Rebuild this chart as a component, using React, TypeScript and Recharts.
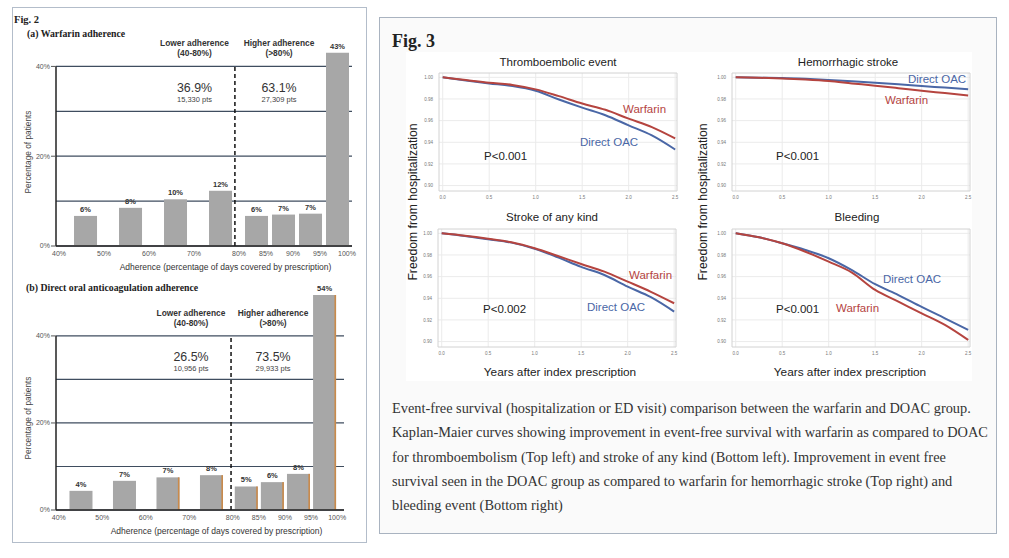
import React from "react";
import {
  BarChart,
  Bar,
  XAxis,
  YAxis,
  CartesianGrid,
  ReferenceLine,
  ReferenceArea,
  LabelList,
  LineChart,
  Line,
} from "recharts";

// ---- Fig. 2 data ----
const BIN_LO = [40, 50, 60, 70, 80, 85, 90, 95];
const BIN_HI = [50, 60, 70, 80, 85, 90, 95, 100];
const AXIS_TICKS = [40, 50, 60, 70, 80, 85, 90, 95, 100];
const Y_TICKS = [0, 10, 20, 30, 40];

const WARFARIN_PCT = [6.7, 8.5, 10.4, 12.3, 6.7, 7.0, 7.2, 43.1];
const WARFARIN_LABELS = ["6%", "8%", "10%", "12%", "6%", "7%", "7%", "43%"];
const WARFARIN_SHARE = ["36.9%", "63.1%"];
const WARFARIN_PTS = ["15,330 pts", "27,309 pts"];

const DOAC_PCT = [4.4, 6.7, 7.5, 8.0, 5.4, 6.4, 8.3, 54];
const DOAC_LABELS = ["4%", "7%", "7%", "8%", "5%", "6%", "8%", "54%"];
const DOAC_SHARE = ["26.5%", "73.5%"];
const DOAC_PTS = ["10,956 pts", "29,933 pts"];

const GROUP_NAMES = ["Lower adherence", "Higher adherence"];
const GROUP_RANGES = ["(40-80%)", "(>80%)"];

// ---- Fig. 3 data ----
const YEARS = [0, 0.25, 0.5, 0.75, 1, 1.25, 1.5, 1.75, 2, 2.25, 2.5];
const TE_WARFARIN = [1, 0.9975, 0.995, 0.993, 0.9889, 0.9826, 0.9758, 0.97, 0.9618, 0.954, 0.9435];
const TE_DOAC = [1, 0.997, 0.9944, 0.992, 0.9876, 0.9795, 0.972, 0.965, 0.9556, 0.9463, 0.9333];
const HS_WARFARIN = [1, 0.9996, 0.999, 0.998, 0.9966, 0.9944, 0.9923, 0.99, 0.9876, 0.9855, 0.9833];
const HS_DOAC = [1, 0.9997, 0.9994, 0.9986, 0.9975, 0.9963, 0.995, 0.9936, 0.992, 0.9905, 0.9889];
const SA_WARFARIN = [1, 0.9978, 0.995, 0.9917, 0.9862, 0.979, 0.9717, 0.9646, 0.9554, 0.946, 0.9354];
const SA_DOAC = [1, 0.9975, 0.9945, 0.9914, 0.9858, 0.9778, 0.969, 0.9615, 0.9508, 0.941, 0.9277];
const BL_WARFARIN = [1, 0.9963, 0.9908, 0.983, 0.9738, 0.9637, 0.9477, 0.9369, 0.926, 0.9154, 0.9015];
const BL_DOAC = [1, 0.9963, 0.9908, 0.9846, 0.977, 0.966, 0.953, 0.943, 0.932, 0.9215, 0.9108];
const KM_X_TICKS = [0, 0.5, 1, 1.5, 2, 2.5];
const KM_Y_TICKS = [0.9, 0.92, 0.94, 0.96, 0.98, 1];

const CAPTION_LINES = [
  "Event-free survival (hospitalization or ED visit) comparison between the warfarin and DOAC group.",
  "Kaplan-Maier curves showing improvement in event-free survival with warfarin as compared to DOAC",
  "for thromboembolism (Top left) and stroke of any kind (Bottom left). Improvement in event free",
  "survival seen in the DOAC group as compared to warfarin for hemorrhagic stroke (Top right) and",
  "bleeding event (Bottom right)",
];

const SANS = "'Liberation Sans', Arial, sans-serif";
const SERIF = "'Liberation Serif', Georgia, serif";
const BAR_FILL = "#a7a7a7";
const EDGE = "#c98a4b";
const GRID = "#3f4d5f";
const RED = "#b5443f";
const BLUE = "#4a67a6";

// upper bins (80-100%) are drawn wider than their share of the range
const UPPER_STRETCH = 1.2;
const toPos = (a: number) => (a <= 80 ? a : 80 + (a - 80) * UPPER_STRETCH);
const TICK_POS = AXIS_TICKS.map(toPos);

type TxtProps = {
  x: number;
  y: number;
  size: number;
  children: React.ReactNode;
  color?: string;
  bold?: boolean;
  family?: string;
  align?: "left" | "center";
  rotate?: boolean;
};

function Txt({ x, y, size, children, color = "#222", bold, family = SANS, align = "center", rotate }: TxtProps) {
  let transform = align === "center" ? "translate(-50%, -50%)" : "translate(0, -50%)";
  if (rotate) transform += " rotate(-90deg)";
  return (
    <div
      style={{
        position: "absolute",
        left: x,
        top: y,
        fontSize: size,
        lineHeight: 1,
        color,
        fontWeight: bold ? 700 : 400,
        fontFamily: family,
        whiteSpace: "nowrap",
        transform,
      }}
    >
      {children}
    </div>
  );
}

const renderYTick = (props: any) => {
  const { x, y, payload } = props;
  if (payload.value % 20 !== 0) return <g />;
  return (
    <g>
      <line x1={x + 1} x2={x + 6} y1={y} y2={y} stroke="#555" strokeWidth={1} />
      <text x={x} y={y} dy={2.4} textAnchor="end" fontSize={7} fill="#555" fontFamily={SANS}>
        {payload.value}%
      </text>
    </g>
  );
};

const makeBarShape = (edged: boolean) => (props: any) => {
  const { x, y, width, height, index, background } = props;
  const top = background ? Math.max(y, background.y) : y;
  const h = y + height - top;
  return (
    <g>
      <rect x={x} y={top} width={width} height={h} fill={BAR_FILL} />
      {edged && index >= 2 && <rect x={x + width - 1.6} y={top} width={1.6} height={h} fill={EDGE} />}
    </g>
  );
};

const makeBarLabel = (plotTop: number) => (props: any) => {
  const vb = props.viewBox ?? props;
  const x = Number(vb.x) + Number(vb.width) / 2;
  const y = Math.max(Number(vb.y), plotTop) - 4;
  return (
    <text x={x} y={y} textAnchor="middle" fontSize={7.5} fontWeight="bold" fill="#333" fontFamily={SANS}>
      {props.value}
    </text>
  );
};

type AdhProps = {
  top: number;
  margin: { top: number; right: number; left: number; bottom: number };
  xDomain: [number, number];
  yMax: number;
  values: number[];
  labels: string[];
  divider: number;
  tickDx: number;
  edged: boolean;
};

function AdherenceChart(p: AdhProps) {
  const rows = BIN_LO.map((lo, i) => ({
    pos: toPos((lo + BIN_HI[i]) / 2),
    value: p.values[i],
    label: p.labels[i],
  }));
  return (
    <div style={{ position: "absolute", left: 0, top: p.top }}>
      <BarChart width={370} height={280} data={rows} margin={p.margin}>
        <CartesianGrid vertical={false} syncWithTicks stroke={GRID} strokeWidth={1.2} />
        <XAxis
          type="number"
          dataKey="pos"
          domain={p.xDomain}
          allowDataOverflow
          ticks={TICK_POS}
          interval={0}
          tickFormatter={(v: number) => {
            const i = TICK_POS.findIndex((q) => Math.abs(q - v) < 1e-6);
            return `${AXIS_TICKS[i]}%`;
          }}
          height={20}
          tickLine={false}
          tickSize={4}
          tickMargin={1}
          axisLine={{ stroke: "#222", strokeWidth: 1.5 }}
          tick={{ fontSize: 7, fill: "#555", dx: p.tickDx, fontFamily: SANS }}
        />
        <YAxis
          type="number"
          domain={[0, p.yMax]}
          allowDataOverflow
          ticks={Y_TICKS}
          interval={0}
          width={30}
          tickSize={5}
          tickMargin={1}
          axisLine={false}
          tickLine={false}
          tick={renderYTick}
        />
        <ReferenceLine
          segment={[
            { x: p.xDomain[0], y: 0 },
            { x: p.xDomain[0], y: 40 },
          ]}
          stroke="#222"
          strokeWidth={1.5}
        />
        <ReferenceLine
          segment={[
            { x: p.divider, y: 0 },
            { x: p.divider, y: 40 },
          ]}
          stroke="#111"
          strokeWidth={1.5}
          strokeDasharray="4 3"
        />
        <Bar dataKey="value" barSize={23} fill={BAR_FILL} isAnimationActive={false} shape={makeBarShape(p.edged)}>
          <LabelList dataKey="label" content={makeBarLabel(p.margin.top)} />
        </Bar>
      </BarChart>
    </div>
  );
}

function kmRows(w: number[], d: number[]) {
  return YEARS.map((t, i) => ({ t, w: w[i], d: d[i] }));
}

function KmChart({ left, top, w, d }: { left: number; top: number; w: number[]; d: number[] }) {
  return (
    <div style={{ position: "absolute", left: left - 25, top: top - 5 }}>
      <LineChart width={268} height={143} data={kmRows(w, d)} margin={{ top: 5, right: 5, left: 5, bottom: 5 }}>
        <CartesianGrid stroke="#ebebeb" syncWithTicks />
        <ReferenceArea x1={-0.04} x2={2.52} y1={0.895} y2={1.004} fill="none" stroke="#d2d2d2" ifOverflow="visible" />
        <XAxis
          type="number"
          dataKey="t"
          domain={[-0.04, 2.52]}
          allowDataOverflow
          ticks={KM_X_TICKS}
          interval={0}
          tickFormatter={(v: number) => v.toFixed(1)}
          height={15}
          tickSize={3}
          tickMargin={2}
          tickLine={false}
          axisLine={false}
          tick={{ fontSize: 4.5, fill: "#777", fontFamily: SANS }}
        />
        <YAxis
          type="number"
          domain={[0.895, 1.004]}
          allowDataOverflow
          ticks={KM_Y_TICKS}
          interval={0}
          tickFormatter={(v: number) => v.toFixed(2)}
          width={20}
          tickSize={4}
          tickMargin={2}
          tickLine={false}
          axisLine={false}
          tick={{ fontSize: 4.5, fill: "#777", fontFamily: SANS }}
        />
        <Line type="monotone" dataKey="d" stroke={BLUE} strokeWidth={2} dot={false} isAnimationActive={false} />
        <Line type="monotone" dataKey="w" stroke={RED} strokeWidth={2} dot={false} isAnimationActive={false} />
      </LineChart>
    </div>
  );
}

export default function App() {
  return (
    <div style={{ position: "absolute", left: 0, top: 0, width: 1009, height: 558, background: "#fff", overflow: "hidden" }}>
      {/* Fig. 2 panel */}
      <div
        style={{
          position: "absolute",
          left: 12,
          top: 7,
          width: 355,
          height: 536,
          boxSizing: "border-box",
          border: "1px solid #b3bdca",
          background: "#fff",
        }}
      />
      <Txt x={14} y={20} size={10.5} bold family={SERIF} align="left">Fig. 2</Txt>
      <Txt x={27} y={34} size={9.8} bold family={SERIF} align="left">(a) Warfarin adherence</Txt>

      <AdherenceChart
        top={0}
        margin={{ top: 52.5, right: 18, left: 26, bottom: 14 }}
        xDomain={[38.44, 104.22]}
        yMax={43.1}
        values={WARFARIN_PCT}
        labels={WARFARIN_LABELS}
        divider={78.2}
        tickDx={-4}
        edged={false}
      />
      <Txt x={194.5} y={43} size={8.4} bold color="#333">{GROUP_NAMES[0]}</Txt>
      <Txt x={194.5} y={53} size={8.4} bold color="#333">{GROUP_RANGES[0]}</Txt>
      <Txt x={279} y={43} size={8.4} bold color="#333">{GROUP_NAMES[1]}</Txt>
      <Txt x={279} y={53} size={8.4} bold color="#333">{GROUP_RANGES[1]}</Txt>
      <Txt x={194.5} y={88} size={12.4} color="#333">{WARFARIN_SHARE[0]}</Txt>
      <Txt x={194.5} y={100} size={7.5} color="#444">{WARFARIN_PTS[0]}</Txt>
      <Txt x={279} y={88} size={12.4} color="#333">{WARFARIN_SHARE[1]}</Txt>
      <Txt x={279} y={100} size={7.5} color="#444">{WARFARIN_PTS[1]}</Txt>
      <Txt x={28} y={152} size={8.3} color="#444" rotate>Percentage of patients</Txt>
      <Txt x={225.5} y={267} size={8.5} color="#333">Adherence (percentage of days covered by prescription)</Txt>

      <Txt x={26} y={288} size={9.8} bold family={SERIF} align="left">(b) Direct oral anticoagulation adherence</Txt>
      <AdherenceChart
        top={270}
        margin={{ top: 25, right: 26, left: 26, bottom: 20 }}
        xDomain={[39.36, 105.57]}
        yMax={49.4}
        values={DOAC_PCT}
        labels={DOAC_LABELS}
        divider={79.6}
        tickDx={0}
        edged
      />
      <Txt x={191} y={313} size={8.4} bold color="#333">{GROUP_NAMES[0]}</Txt>
      <Txt x={191} y={322.5} size={8.4} bold color="#333">{GROUP_RANGES[0]}</Txt>
      <Txt x={273} y={313} size={8.4} bold color="#333">{GROUP_NAMES[1]}</Txt>
      <Txt x={273} y={322.5} size={8.4} bold color="#333">{GROUP_RANGES[1]}</Txt>
      <Txt x={191} y={357} size={12.4} color="#333">{DOAC_SHARE[0]}</Txt>
      <Txt x={191} y={369} size={7.5} color="#444">{DOAC_PTS[0]}</Txt>
      <Txt x={273} y={357} size={12.4} color="#333">{DOAC_SHARE[1]}</Txt>
      <Txt x={273} y={369} size={7.5} color="#444">{DOAC_PTS[1]}</Txt>
      <Txt x={28} y={418} size={8.3} color="#444" rotate>Percentage of patients</Txt>
      <Txt x={216.5} y={531} size={8.5} color="#333">Adherence (percentage of days covered by prescription)</Txt>

      {/* Fig. 3 panel */}
      <div
        style={{
          position: "absolute",
          left: 379,
          top: 17,
          width: 618,
          height: 517,
          boxSizing: "border-box",
          border: "1px solid #a9b3c0",
          background: "#fafafa",
        }}
      />
      <div style={{ position: "absolute", left: 406, top: 52, width: 566, height: 329, background: "#fff" }} />
      <Txt x={392} y={41} size={18} bold family={SERIF} align="left">Fig. 3</Txt>

      <KmChart left={439} top={73} w={TE_WARFARIN} d={TE_DOAC} />
      <KmChart left={732} top={73} w={HS_WARFARIN} d={HS_DOAC} />
      <KmChart left={438} top={229} w={SA_WARFARIN} d={SA_DOAC} />
      <KmChart left={732} top={229} w={BL_WARFARIN} d={BL_DOAC} />

      <Txt x={558} y={63} size={11.5}>Thromboembolic event</Txt>
      <Txt x={848} y={63} size={11.5}>Hemorrhagic stroke</Txt>
      <Txt x={552} y={218} size={11.5}>Stroke of any kind</Txt>
      <Txt x={857} y={218} size={11.5}>Bleeding</Txt>
      <Txt x={413} y={202} size={12.2} rotate>Freedom from hospitalization</Txt>
      <Txt x={703} y={202} size={12.2} rotate>Freedom from hospitalization</Txt>
      <Txt x={560} y={373} size={11.8}>Years after index prescription</Txt>
      <Txt x={850} y={373} size={11.8}>Years after index prescription</Txt>

      <Txt x={623} y={110} size={11.5} color={RED} align="left">Warfarin</Txt>
      <Txt x={580} y={143} size={11.5} color={BLUE} align="left">Direct OAC</Txt>
      <Txt x={484} y={157} size={11.5} align="left">P&lt;0.001</Txt>
      <Txt x={908} y={80} size={11.5} color={BLUE} align="left">Direct OAC</Txt>
      <Txt x={885} y={101} size={11.5} color={RED} align="left">Warfarin</Txt>
      <Txt x={776} y={157} size={11.5} align="left">P&lt;0.001</Txt>
      <Txt x={629} y={276} size={11.5} color={RED} align="left">Warfarin</Txt>
      <Txt x={587} y={308} size={11.5} color={BLUE} align="left">Direct OAC</Txt>
      <Txt x={483} y={310} size={11.5} align="left">P&lt;0.002</Txt>
      <Txt x={883} y={280} size={11.5} color={BLUE} align="left">Direct OAC</Txt>
      <Txt x={836} y={309} size={11.5} color={RED} align="left">Warfarin</Txt>
      <Txt x={776} y={310} size={11.5} align="left">P&lt;0.001</Txt>

      {CAPTION_LINES.map((line, i) => (
        <Txt key={i} x={392} y={408 + i * 24.3} size={14.35} color="#333" family={SERIF} align="left">
          {line}
        </Txt>
      ))}
    </div>
  );
}
